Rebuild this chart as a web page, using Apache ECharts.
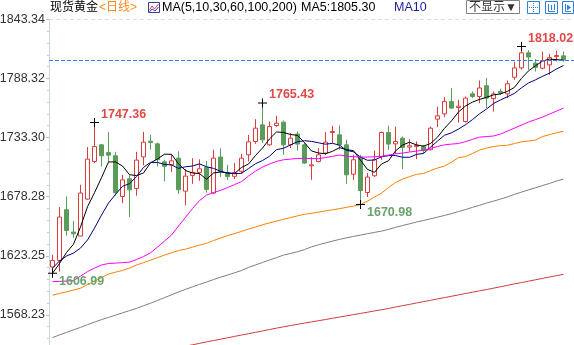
<!DOCTYPE html>
<html>
<head>
<meta charset="utf-8">
<script src="https://cdn.jsdelivr.net/npm/echarts@6/dist/echarts.min.js"></script>
<style>
  html, body { margin: 0; padding: 0; background: #fff; }
  #chart { width: 574px; height: 345px; }
</style>
</head>
<body>
<div id="chart"></div>
<script>
// Spot gold, daily candles: open / close / low / high
const opens = [1612.8, 1618.9, 1666.1, 1645.3, 1641.6, 1676.0, 1711.0, 1726.5, 1719.3, 1716.3,
  1678.4, 1694.9, 1685.9, 1715.3, 1729.9, 1727.4, 1710.7, 1707.9, 1714.1, 1683.4,
  1698.0, 1700.7, 1705.6, 1681.6, 1715.1, 1700.5, 1697.2, 1701.9, 1717.2, 1729.6,
  1745.1, 1726.5, 1744.5, 1747.6, 1726.5, 1736.5, 1726.5, 1707.0, 1711.0, 1718.8,
  1737.9, 1735.8, 1726.5, 1699.2, 1715.1, 1682.1, 1697.7, 1715.6, 1738.0, 1727.4,
  1732.7, 1724.4, 1724.9, 1724.9, 1721.9, 1750.4, 1755.3, 1766.8, 1761.2, 1748.2,
  1774.0, 1771.5, 1781.5, 1769.5, 1776.2, 1774.0, 1789.4, 1798.1, 1812.1, 1802.5,
  1797.8, 1800.9, 1808.6, 1809.3];
const closes = [1618.9, 1659.3, 1646.8, 1643.7, 1681.6, 1713.2, 1724.9, 1716.3, 1716.9, 1681.9,
  1693.9, 1684.6, 1712.3, 1729.0, 1728.6, 1712.6, 1706.5, 1711.6, 1684.7, 1697.4,
  1700.9, 1704.2, 1685.0, 1714.1, 1701.7, 1697.0, 1700.7, 1714.1, 1729.3, 1742.0,
  1731.2, 1743.5, 1746.7, 1726.5, 1732.7, 1727.2, 1709.5, 1707.9, 1717.2, 1729.0,
  1738.9, 1726.5, 1698.6, 1712.6, 1684.0, 1696.5, 1712.6, 1738.0, 1727.2, 1729.6,
  1724.0, 1725.6, 1725.9, 1721.2, 1742.0, 1753.5, 1766.8, 1760.7, 1762.5, 1770.0,
  1771.5, 1779.4, 1770.0, 1773.9, 1774.7, 1783.3, 1798.1, 1812.1, 1808.2, 1798.6,
  1805.0, 1807.7, 1809.6, 1805.6];
const lows = [1606.99, 1608.7, 1641.9, 1640.0, 1641.2, 1675.4, 1709.5, 1706.3, 1710.7, 1679.1,
  1672.3, 1659.3, 1679.1, 1707.4, 1721.9, 1706.3, 1692.4, 1701.4, 1680.9, 1670.2,
  1690.2, 1693.0, 1682.1, 1680.9, 1696.7, 1693.9, 1694.6, 1699.5, 1711.0, 1727.4,
  1728.1, 1725.6, 1743.3, 1717.2, 1723.4, 1721.2, 1708.8, 1693.9, 1710.1, 1717.2,
  1728.1, 1721.9, 1690.2, 1693.9, 1670.98, 1677.9, 1696.7, 1712.6, 1721.9, 1718.1,
  1703.9, 1720.3, 1713.2, 1718.1, 1721.2, 1743.0, 1752.3, 1760.0, 1747.3, 1747.3,
  1770.0, 1765.3, 1760.7, 1757.6, 1773.0, 1770.0, 1787.1, 1796.5, 1796.3, 1794.7,
  1796.9, 1791.6, 1804.0, 1804.0];
const highs = [1624.2, 1668.6, 1678.4, 1655.8, 1689.3, 1724.4, 1747.36, 1727.4, 1738.3, 1720.0,
  1698.5, 1698.1, 1720.0, 1738.6, 1735.8, 1728.6, 1712.6, 1717.2, 1720.5, 1703.9,
  1714.0, 1713.0, 1711.6, 1721.9, 1723.3, 1707.9, 1709.7, 1718.1, 1735.8, 1750.4,
  1765.43, 1748.2, 1753.5, 1749.1, 1737.4, 1738.9, 1728.1, 1715.1, 1723.4, 1738.3,
  1744.2, 1744.5, 1731.2, 1717.2, 1717.2, 1700.2, 1721.2, 1738.9, 1744.2, 1743.5,
  1734.2, 1731.8, 1729.6, 1726.5, 1743.5, 1762.1, 1770.9, 1779.4, 1768.4, 1771.5,
  1776.2, 1786.4, 1788.6, 1776.2, 1778.7, 1786.4, 1803.7, 1818.02, 1814.5, 1806.2,
  1813.3, 1811.1, 1814.2, 1813.3];

// Moving averages
const ma5 = [1607.0, 1616.0, 1626.3, 1634.0, 1650.1, 1668.9, 1682.0, 1695.9, 1710.6, 1710.6,
  1706.8, 1698.7, 1697.9, 1700.3, 1709.7, 1713.4, 1717.8, 1717.7, 1708.8, 1702.6,
  1700.2, 1699.8, 1694.4, 1700.3, 1701.2, 1700.4, 1699.7, 1705.5, 1708.6, 1716.6,
  1723.5, 1732.0, 1738.5, 1738.0, 1736.1, 1735.3, 1728.5, 1720.8, 1718.9, 1718.2,
  1720.5, 1723.9, 1722.0, 1721.1, 1712.1, 1703.6, 1700.9, 1708.7, 1711.7, 1720.8,
  1726.3, 1728.9, 1726.5, 1725.3, 1727.7, 1733.6, 1741.9, 1748.8, 1757.1, 1762.7,
  1766.3, 1768.8, 1770.7, 1773.0, 1773.9, 1776.3, 1780.0, 1788.4, 1795.3, 1800.1,
  1804.4, 1806.3, 1805.8, 1805.3];
const ma10 = [1611.8, 1618.3, 1623.0, 1625.8, 1630.4, 1637.9, 1649.0, 1661.1, 1672.3, 1680.4,
  1687.9, 1690.4, 1696.9, 1705.5, 1710.2, 1710.1, 1708.3, 1707.8, 1704.6, 1706.1,
  1706.8, 1708.8, 1706.1, 1704.6, 1701.9, 1700.3, 1699.7, 1700.0, 1704.4, 1708.9,
  1711.9, 1715.9, 1722.0, 1723.3, 1726.4, 1729.4, 1730.3, 1729.7, 1728.4, 1727.1,
  1727.9, 1726.2, 1721.4, 1720.0, 1715.1, 1712.1, 1712.4, 1715.4, 1716.4, 1716.5,
  1715.0, 1714.9, 1717.6, 1718.5, 1724.3, 1730.0, 1735.4, 1737.7, 1741.2, 1745.2,
  1750.0, 1755.4, 1759.8, 1765.0, 1768.3, 1771.3, 1774.4, 1779.6, 1784.1, 1787.0,
  1790.3, 1793.2, 1797.1, 1800.3];
const ma30 = [1599.2, 1599.4, 1599.7, 1600.1, 1604.3, 1608.5, 1611.8, 1614.6, 1616.1, 1616.4,
  1616.9, 1617.3, 1619.7, 1622.5, 1626.0, 1631.3, 1636.9, 1642.5, 1650.9, 1659.0,
  1667.2, 1674.6, 1679.7, 1682.1, 1684.1, 1686.7, 1689.5, 1692.3, 1697.4, 1702.1,
  1705.8, 1708.6, 1711.1, 1712.6, 1713.2, 1713.8, 1713.9, 1713.7, 1713.6, 1714.6,
  1715.8, 1717.0, 1716.0, 1715.4, 1715.1, 1715.1, 1715.4, 1715.8, 1717.0, 1718.1,
  1718.8, 1719.8, 1720.7, 1721.6, 1723.2, 1724.9, 1726.5, 1727.2, 1727.7, 1729.5,
  1731.6, 1733.7, 1734.2, 1734.7, 1736.5, 1739.3, 1742.1, 1744.9, 1747.7, 1750.0,
  1752.3, 1755.1, 1757.9, 1760.7];
const ma60 = [1586.6, 1588.2, 1589.7, 1591.3, 1593.1, 1596.4, 1599.7, 1602.9, 1606.2, 1608.0,
  1609.6, 1611.8, 1614.6, 1616.9, 1619.2, 1621.5, 1623.9, 1626.0, 1628.1, 1629.4,
  1631.3, 1633.2, 1634.8, 1637.4, 1639.7, 1642.0, 1643.9, 1645.9, 1648.1, 1649.9,
  1652.1, 1653.8, 1655.5, 1657.2, 1658.8, 1660.4, 1661.8, 1662.8, 1663.9, 1665.0,
  1666.0, 1667.1, 1668.3, 1669.5, 1670.9, 1674.1, 1677.9, 1681.6, 1686.7, 1691.4,
  1694.6, 1696.9, 1699.0, 1699.9, 1702.5, 1704.9, 1706.7, 1710.4, 1714.6, 1715.6,
  1718.4, 1721.6, 1723.5, 1724.9, 1725.8, 1726.1, 1727.7, 1729.3, 1730.0, 1730.9,
  1734.2, 1736.0, 1737.7, 1739.1];
const ma100 = [1547.1, 1549.6, 1551.9, 1554.3, 1556.6, 1559.1, 1561.5, 1563.8, 1565.9, 1568.0,
  1570.1, 1572.2, 1574.3, 1576.7, 1579.1, 1581.7, 1584.3, 1586.9, 1589.5, 1592.0,
  1594.3, 1596.6, 1598.8, 1601.1, 1603.3, 1605.3, 1607.4, 1609.5, 1612.4, 1614.7,
  1617.0, 1619.3, 1621.5, 1623.9, 1625.4, 1627.0, 1629.0, 1631.5, 1633.5, 1635.2,
  1636.9, 1638.5, 1639.9, 1641.3, 1642.5, 1643.8, 1645.0, 1646.2, 1647.8, 1649.7,
  1651.4, 1653.0, 1654.6, 1656.1, 1657.7, 1659.2, 1660.8, 1662.5, 1664.4, 1666.2,
  1668.3, 1670.2, 1672.3, 1674.1, 1676.0, 1678.1, 1680.4, 1682.5, 1684.6, 1686.5,
  1688.6, 1690.6, 1692.8, 1694.6];
const ma200 = [null, null, null, null, null, null, null, null, null, null,
  null, null, null, null, null, null, null, null, null, 1539.1,
  1540.4, 1541.7, 1543.1, 1544.3, 1545.6, 1546.9, 1548.2, 1549.5, 1550.7, 1552.0,
  1553.3, 1554.6, 1555.9, 1557.1, 1558.3, 1559.4, 1560.6, 1561.7, 1562.8, 1563.9,
  1565.1, 1566.2, 1567.3, 1568.5, 1569.6, 1570.7, 1571.9, 1573.0, 1574.2, 1575.5,
  1576.8, 1578.0, 1579.3, 1580.6, 1581.8, 1583.1, 1584.3, 1585.6, 1586.8, 1588.1,
  1589.3, 1590.6, 1591.8, 1593.1, 1594.4, 1595.7, 1597.1, 1598.3, 1599.6, 1600.9,
  1602.2, 1603.5, 1604.7, 1606.0];

// Price axis tick labels
const yTickLabels = ['1568.23', '1623.25', '1678.28', '1733.30', '1788.32', '1843.34'];

// Candles whose high / low is annotated
const peakIdx = [6, 30, 67];
const troughIdx = [0, 44];

const UP = '#dc3c3c';
const DOWN = '#5a9c5a';
const FONT = '"Liberation Sans", "Noto Sans CJK SC", sans-serif';

const n = closes.length;
// one spare slot after the last candle
const days = Array.from({ length: n + 1 }, (_, i) => String(i + 1));
const candles = closes.map((c, i) => [opens[i], c, lows[i], highs[i]]);
const lastClose = closes[n - 1];

const axisMax = parseFloat(yTickLabels[yTickLabels.length - 1]);
const axisStep = (axisMax - parseFloat(yTickLabels[0])) / (yTickLabels.length - 1);
const axisMin = axisMax - yTickLabels.length * axisStep;

function tickText(v) {
  for (const t of yTickLabels) {
    if (Math.abs(parseFloat(t) - v) < 0.5) return t;
  }
  return '';
}

const crossPath = 'path://M0,4H9V5H0Z M4,0H5V9H4Z';

const marks = [
  ...peakIdx.map(i => ({
    coord: [i, highs[i]], value: highs[i],
    label: { color: '#e24848', offset: [1, -8] }
  })),
  ...troughIdx.map(i => ({
    coord: [i, lows[i]], value: lows[i],
    label: { color: '#6aa26a', offset: [1, 8] }
  }))
];

function maLine(name, data, color) {
  return {
    name, type: 'line', data: data.map(v => (v == null ? '-' : v)),
    symbol: 'none', showSymbol: false, smooth: false, z: 3,
    lineStyle: { color, width: 1 }, emphasis: { disabled: true }, silent: true
  };
}

const chart = echarts.init(document.getElementById('chart'), null, { renderer: 'canvas' });

const ICON = '#2f7fdc';
const HEAD = '12.5px ' + FONT;

chart.setOption({
  animation: false,
  backgroundColor: '#fff',
  // the price pane runs on below the bottom edge of the view
  grid: {
    left: 49, right: 0, top: 19.3, height: 354.7,
    containLabel: false, outerBoundsMode: 'none'
  },
  xAxis: {
    type: 'category', data: days, boundaryGap: true, show: false
  },
  yAxis: {
    type: 'value', min: axisMin, max: axisMax, interval: axisStep,
    axisLine: { show: true, lineStyle: { color: '#c9d7e6', width: 1 } },
    axisTick: { show: true, length: 3, lineStyle: { color: '#b9c3cf' } },
    minorTick: { show: true, splitNumber: 5, length: 2, lineStyle: { color: '#c9d0d8' } },
    splitLine: { show: false },
    axisLabel: {
      margin: 4, color: '#333', fontSize: 12.5, fontFamily: FONT,
      formatter: tickText
    }
  },
  series: [
    {
      name: '现货黄金', type: 'candlestick', data: candles, barWidth: 5, z: 2,
      itemStyle: {
        color: '#fff', color0: DOWN, borderColor: UP, borderColor0: DOWN, borderWidth: 1
      },
      emphasis: { disabled: true }, silent: true,
      markLine: {
        silent: true, symbol: ['none', 'none'], label: { show: false },
        data: [
          { yAxis: axisMax, lineStyle: { color: '#dedede', type: [4, 3], width: 1 } },
          { yAxis: lastClose, lineStyle: { color: '#2a7fff', type: [4, 2], width: 1 } }
        ]
      },
      markPoint: {
        symbol: crossPath, symbolSize: 9, silent: true,
        itemStyle: { color: '#000' },
        label: {
          show: true, position: 'right', distance: 1,
          fontSize: 12.5, fontWeight: 'bold', fontFamily: FONT,
          formatter: p => Number(p.value).toFixed(2)
        },
        data: marks
      }
    },
    maLine('MA5', ma5, '#000000'),
    maLine('MA10', ma10, '#000080'),
    maLine('MA30', ma30, '#ff00ff'),
    maLine('MA60', ma60, '#ff8000'),
    maLine('MA100', ma100, '#7f7f7f'),
    maLine('MA200', ma200, '#d03c3c')
  ],
  graphic: [
    { type: 'text', x: 50, y: 8, style: { text: '现货黄金', font: '12px ' + FONT, fill: '#000', verticalAlign: 'middle', textVerticalAlign: 'middle' } },
    { type: 'text', x: 99, y: 8, style: { text: '<日线>', font: '12px ' + FONT, fill: '#ff8a1e', verticalAlign: 'middle', textVerticalAlign: 'middle' } },
    { type: 'rect', shape: { x: 148.5, y: 2.5, width: 11, height: 10 }, style: { fill: '#fff', stroke: '#3b3b8f', lineWidth: 1 } },
    { type: 'polyline', shape: { points: [[149.5, 10], [152, 6], [154.5, 9], [158.5, 4]] }, style: { stroke: '#e04040', lineWidth: 1, fill: null } },
    { type: 'polyline', shape: { points: [[149.5, 12], [152, 9], [155, 11], [158.5, 7]] }, style: { stroke: '#3b3bd0', lineWidth: 1, fill: null } },
    { type: 'text', x: 162, y: 8, style: { text: 'MA(5,10,30,60,100,200)', font: HEAD, fill: '#000', verticalAlign: 'middle', textVerticalAlign: 'middle' } },
    { type: 'text', x: 301, y: 8, style: { text: 'MA5:' + ma5[n - 1].toFixed(2), font: HEAD, fill: '#000', verticalAlign: 'middle', textVerticalAlign: 'middle' } },
    { type: 'text', x: 394, y: 8, style: { text: 'MA10', font: HEAD, fill: '#1c1ca0', verticalAlign: 'middle', textVerticalAlign: 'middle' } },
    { type: 'rect', shape: { x: 466.5, y: 0.5, width: 53, height: 13 }, style: { fill: '#fff', stroke: '#808080', lineWidth: 1 } },
    { type: 'text', x: 493, y: 7.5, style: { text: '不显示▼', font: '12px ' + FONT, fill: '#333', align: 'center', textAlign: 'center', verticalAlign: 'middle', textVerticalAlign: 'middle' } },
    { type: 'rect', shape: { x: 527.5, y: 1.5, width: 12, height: 12 }, style: { fill: '#fff', stroke: ICON, lineWidth: 1 } },
    { type: 'line', shape: { x1: 533.5, y1: 3, x2: 533.5, y2: 12 }, style: { stroke: ICON, lineWidth: 1, lineDash: [1, 1] } },
    { type: 'line', shape: { x1: 529, y1: 7.5, x2: 538, y2: 7.5 }, style: { stroke: ICON, lineWidth: 1, lineDash: [1, 1] } },
    { type: 'rect', shape: { x: 545.5, y: 1.5, width: 12, height: 12 }, style: { fill: '#fff', stroke: ICON, lineWidth: 1 } },
    { type: 'polyline', shape: { points: [[548.5, 4], [548.5, 11.5], [555, 11.5]] }, style: { stroke: ICON, lineWidth: 1, fill: null } },
    { type: 'line', shape: { x1: 551.5, y1: 5, x2: 551.5, y2: 10 }, style: { stroke: ICON, lineWidth: 1 } },
    { type: 'line', shape: { x1: 554.5, y1: 4, x2: 554.5, y2: 10 }, style: { stroke: ICON, lineWidth: 1 } },
    { type: 'rect', shape: { x: 562.5, y: 1.5, width: 11, height: 12 }, style: { fill: '#fff', stroke: ICON, lineWidth: 1 } },
    { type: 'polyline', shape: { points: [[565.5, 4], [565.5, 11.5], [571, 11.5]] }, style: { stroke: ICON, lineWidth: 1, fill: null } },
    { type: 'polygon', shape: { points: [[567, 4.5], [571, 7.5], [567, 10.5]] }, style: { fill: ICON } }
  ]
});
</script>
</body>
</html>
